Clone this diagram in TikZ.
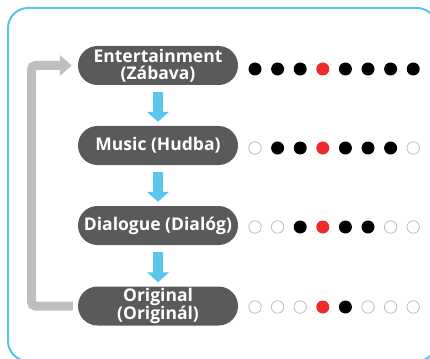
\documentclass[tikz,border=0pt]{standalone}
\usepackage{fontspec}
\setmainfont{Open Sans}
\usetikzlibrary{calc}
\usetikzlibrary{positioning}
\usetikzlibrary{arrows.meta}

\definecolor{framecol}{HTML}{5BC4EE}
\definecolor{stagegray}{HTML}{5A5A5C}
\definecolor{flowblue}{HTML}{5BC5EC}
\definecolor{loopgray}{HTML}{BCBEC0}
\definecolor{dotred}{HTML}{EE2A2A}
\definecolor{dotring}{HTML}{BDBDBD}

\begin{document}
\begin{tikzpicture}[%
  x=1pt, y=-1pt,
  stage/.style={rectangle, rounded corners=19.5pt, fill=stagegray,
    text=white, font=\bfseries\fontsize{17.5}{17.5}\selectfont, align=center,
    minimum width=160pt, minimum height=39pt, inner sep=0pt},
  flow/.style={draw=flowblue, line width=10.5pt,
    -{Triangle[width=21.5pt,length=10pt]}, shorten <=7pt, shorten >=4pt},
  loopback/.style={draw=loopgray, line width=9pt, rounded corners=4pt,
    -{Triangle[width=20pt,length=12pt]}, shorten <=5pt, shorten >=6pt},
  dot0/.style={circle, draw=dotring, line width=0.8pt, fill=white,
    minimum size=12.5pt, inner sep=0pt},
  dot1/.style={circle, fill=black, minimum size=13pt, inner sep=0pt},
  dot2/.style={circle, fill=dotred, minimum size=13pt, inner sep=0pt},
]

  \useasboundingbox (0,0) rectangle (430,358);
  \clip (0,0) rectangle (430,358);

  % frame
  \draw[framecol, line width=2pt, rounded corners=20pt]
    (8,8) rectangle (437,361);

  % stages
  \node[stage] (ent)  at (158,65.5)  {Entertainment\\(Zábava)};
  \node[stage] (mus)  at (158,145.5) {Music (Hudba)};
  \node[stage] (dia)  at (158,225.5) {Dialogue (Dialóg)};
  \node[stage] (orig) at (158,306)   {Original\\(Originál)};

  \draw[flow] (ent) -- (mus);
  \draw[flow] (mus) -- (dia);
  \draw[flow] (dia) -- (orig);

  \coordinate (bend) at (31.5,186);
  \draw[loopback] (orig.west) -| (bend) |- (ent.west);

  % level dots, 0 = empty, 1 = black, 2 = red
  \foreach \r/\y/\pat in {1/69/{1,1,1,2,1,1,1,1},
                          2/148/{0,1,1,2,1,1,1,0},
                          3/227/{0,0,1,2,1,1,0,0},
                          4/307/{0,0,0,2,1,0,0,0}}
    \foreach \c [count=\i] in \pat
      \node[dot\c] (d\r-\i) at ({255+22.6*(\i-1)},\y) {};

\end{tikzpicture}
\end{document}
